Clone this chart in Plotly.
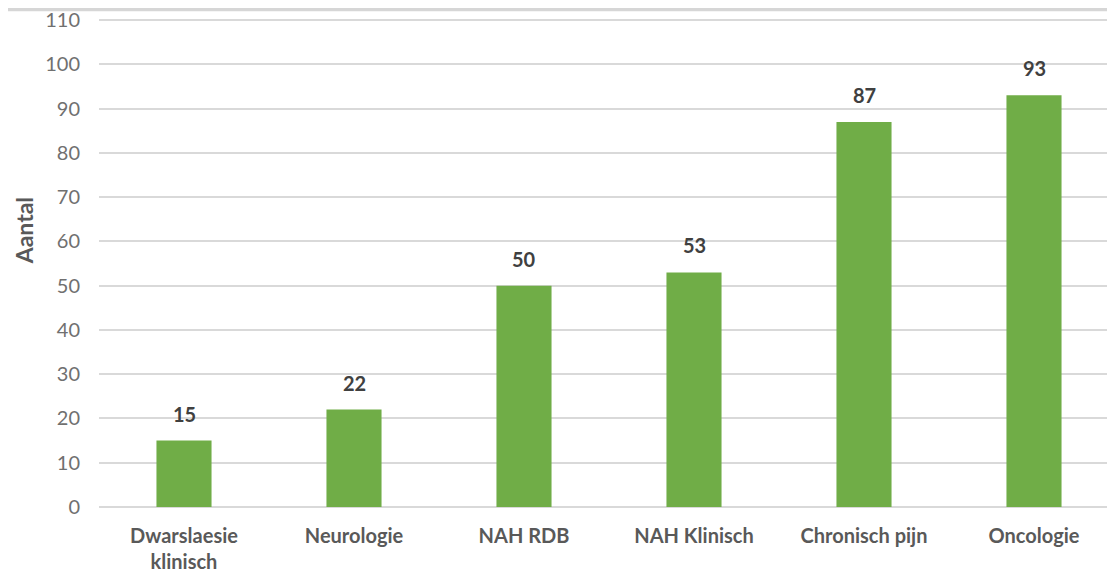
import plotly.graph_objects as go

categories = ["Dwarslaesie<br>klinisch", "Neurologie", "NAH RDB", "NAH Klinisch", "Chronisch pijn", "Oncologie"]
values = [15, 22, 50, 53, 87, 93]
y_ticks = list(range(0, 111, 10))

FONT = "Lato, Carlito, Calibri, sans-serif"

fig = go.Figure()
fig.add_trace(go.Bar(
    x=categories, y=values,
    marker=dict(color="#70AD47", line=dict(width=0)),
    hoverinfo="x+y",
))

for c, v in zip(categories, values):
    fig.add_annotation(x=c, y=v, text=str(v), showarrow=False, yanchor="middle",
                       yshift=27, font=dict(family=FONT, size=20, color="#404040", weight="bold"))

fig.add_annotation(xref="paper", yref="paper", x=-0.0735, y=0.565, text="<b>Aantal</b>",
                   textangle=-90, showarrow=False, xanchor="center", yanchor="middle",
                   font=dict(family=FONT, size=23, color="#595959"))

# top shadow band
fig.add_shape(type="rect", xref="paper", yref="paper", x0=-0.2, x1=1.2, y0=1.016, y1=1.03,
              fillcolor="#d6d6d6", line=dict(width=0), layer="below")

fig.update_layout(
    width=1115, height=580,
    margin=dict(l=91, r=4, t=11, b=81, autoexpand=False),
    plot_bgcolor="white", paper_bgcolor="white",
    bargap=0.676,
    showlegend=False,
    font=dict(family=FONT, color="#595959"),
    xaxis=dict(
        tickfont=dict(family=FONT, size=20, color="#595959", weight="bold"),
        showgrid=False, ticks="", showline=False,
        ticklabelstandoff=15, automargin=False,
    ),
    yaxis=dict(
        range=[0, 110.25], tickvals=y_ticks, ticktext=[str(t) for t in y_ticks],
        showgrid=True, gridcolor="#d9d9d9", gridwidth=2,
        zeroline=True, zerolinecolor="#d9d9d9", zerolinewidth=2,
        tickfont=dict(family=FONT, size=20, color="#707070"),
        ticks="", showline=False, ticklabelstandoff=18,
        ticklabeloverflow="allow", automargin=False,
    ),
)

fig.write_html("out.html")
